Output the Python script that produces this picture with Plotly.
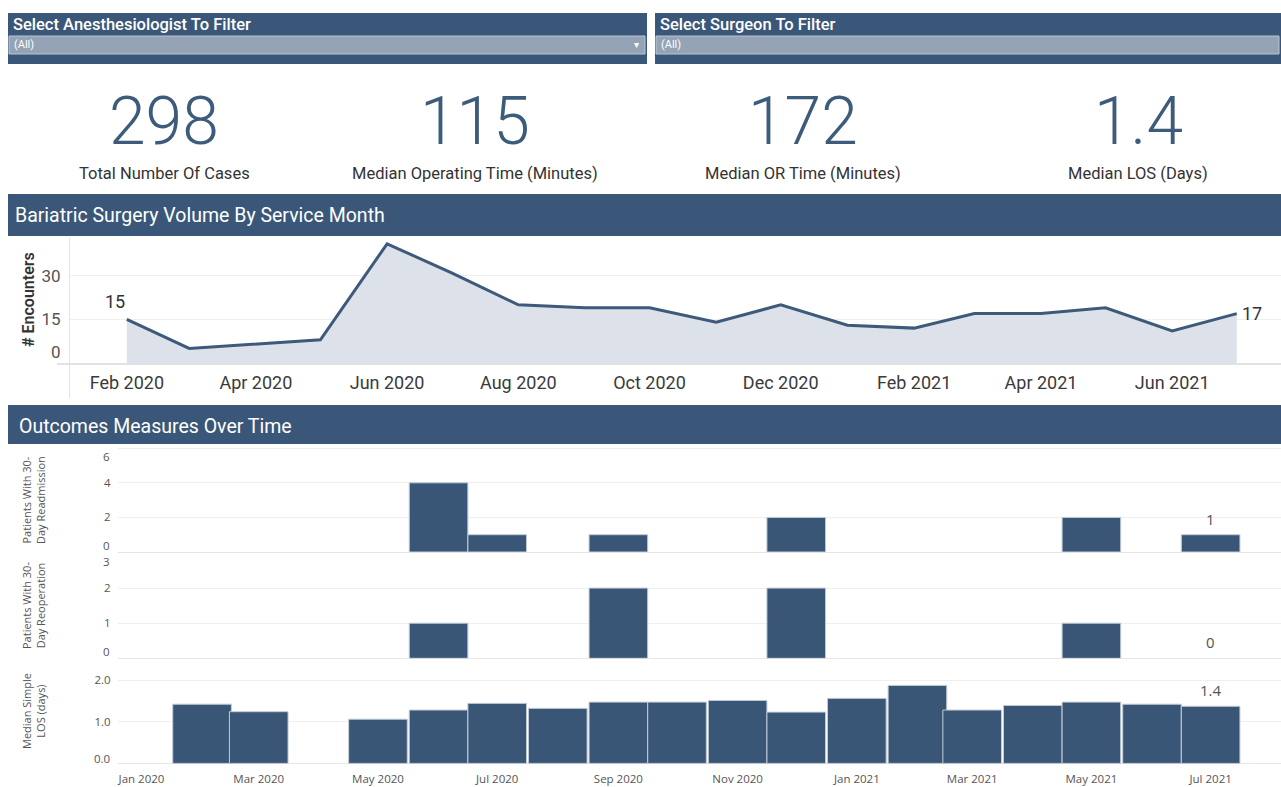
import plotly.graph_objects as go

# ---------------- data ----------------
months = ["2020-02-01", "2020-03-01", "2020-05-01", "2020-06-01", "2020-07-01", "2020-08-01",
          "2020-09-01", "2020-10-01", "2020-11-01", "2020-12-01", "2021-01-01", "2021-02-01",
          "2021-03-01", "2021-04-01", "2021-05-01", "2021-06-01", "2021-07-01"]
encounters = [15, 5, 8, 41, 31, 20, 19, 19, 14, 20, 13, 12, 17, 17, 19, 11, 17]
readmission = [0, 0, 0, 4, 1, 0, 1, 0, 0, 2, 0, 0, 0, 0, 2, 0, 1]
reoperation = [0, 0, 0, 1, 0, 0, 2, 0, 0, 2, 0, 0, 0, 0, 1, 0, 0]
median_los = [1.42, 1.24, 1.06, 1.28, 1.44, 1.32, 1.47, 1.47, 1.51, 1.23, 1.56, 1.87,
              1.28, 1.39, 1.47, 1.42, 1.37]

kpi_values = ["298", "115", "172", "1.4"]
kpi_labels = ["Total Number Of Cases", "Median Operating Time (Minutes)",
              "Median OR Time (Minutes)", "Median LOS (Days)"]
filter_titles = ["Select Anesthesiologist To Filter", "Select Surgeon To Filter"]
section_titles = ["Bariatric Surgery Volume By Service Month", "Outcomes Measures Over Time"]

# ---------------- style ----------------
W, H = 1281, 787
NAVY = "#3a5779"
BAR = "#3a5677"
DROP = "#94a4b6"
FONT = "Roboto"
def px(x):
    return x / W
def py(y):
    return 1 - y / H

fig = go.Figure()

fig.add_trace(go.Scatter(
    x=months, y=encounters, mode="lines", xaxis="x", yaxis="y",
    line=dict(color="#3d5a7a", width=3), fill="tozeroy", fillcolor="#dde2ea",
    hoverinfo="x+y", showlegend=False))

def nz(vals):
    xs = [m for m, v in zip(months, vals) if v]
    ys = [v for v in vals if v]
    return xs, ys

BW = 30 * 86400000
for vals, yax in [(readmission, "y2"), (reoperation, "y3"), (median_los, "y4")]:
    xs, ys = nz(vals)
    fig.add_trace(go.Bar(x=xs, y=ys, xaxis="x2", yaxis=yax, width=BW,
                         marker=dict(color=BAR, line=dict(color="#c3ccd6", width=1)),
                         showlegend=False))

shapes = []
annotations = []

# filter boxes
for (x0, x1), title in zip([(8, 647), (655, 1281)], filter_titles):
    shapes.append(dict(type="rect", xref="paper", yref="paper", x0=px(x0), x1=px(x1),
                       y0=py(64), y1=py(13), fillcolor=NAVY, line=dict(width=0), layer="below"))
    shapes.append(dict(type="rect", xref="paper", yref="paper", x0=px(x0 + 1), x1=px(x1 - 2),
                       y0=py(54), y1=py(36), fillcolor=DROP, line=dict(color="#b9c6d4", width=1),
                       layer="below"))
    annotations.append(dict(xref="paper", yref="paper", x=px(x0 + 3), y=py(24), text=title,
                            xanchor="left", yanchor="middle", showarrow=False,
                            font=dict(family=FONT, size=16.5, color="white", weight=500)))
    annotations.append(dict(xref="paper", yref="paper", x=px(x0 + 4), y=py(45), text="(All)",
                            xanchor="left", yanchor="middle", showarrow=False,
                            font=dict(family=FONT, size=11, color="white")))
annotations.append(dict(xref="paper", yref="paper", x=px(636), y=py(45), text="▾",
                        xanchor="center", yanchor="middle", showarrow=False,
                        font=dict(family=FONT, size=10, color="white")))

# KPIs
for cx, v, lab in zip([164, 475, 803, 1138], kpi_values, kpi_labels):
    annotations.append(dict(xref="paper", yref="paper", x=px(cx), y=py(121), text=v,
                            xanchor="center", yanchor="middle", showarrow=False,
                            font=dict(family=FONT, size=66, color="#3d5b7b", weight=300)))
    annotations.append(dict(xref="paper", yref="paper", x=px(cx), y=py(173), text=lab,
                            xanchor="center", yanchor="middle", showarrow=False,
                            font=dict(family=FONT, size=16.5, color="#333333")))

# section headers
for (y0, y1, ty, tx), title in zip([(194, 236, 215, 13), (405, 444, 426, 17)], section_titles):
    shapes.append(dict(type="rect", xref="paper", yref="paper", x0=px(8), x1=1,
                       y0=py(y1), y1=py(y0), fillcolor=NAVY, line=dict(width=0), layer="below"))
    annotations.append(dict(xref="paper", yref="paper", x=px(tx), y=py(ty), text=title,
                            xanchor="left", yanchor="middle", showarrow=False,
                            font=dict(family=FONT, size=19.5, color="white")))

# area chart frame lines
shapes.append(dict(type="line", xref="paper", yref="paper", x0=px(57), x1=1, y0=py(364), y1=py(364),
                   line=dict(color="#d9d9d9", width=1.5)))
shapes.append(dict(type="line", xref="paper", yref="paper", x0=px(69.5), x1=px(69.5), y0=py(398), y1=py(237),
                   line=dict(color="#e4e4e4", width=1)))

# area labels
annotations.append(dict(x=months[0], y=encounters[0], xref="x", yref="y", text=str(encounters[0]),
                        showarrow=False, xanchor="center", yanchor="bottom", xshift=-12, yshift=5,
                        font=dict(family=FONT, size=18, color="#333333")))
annotations.append(dict(x=months[-1], y=encounters[-1], xref="x", yref="y", text=str(encounters[-1]),
                        showarrow=False, xanchor="left", yanchor="middle", xshift=3,
                        font=dict(family=FONT, size=18, color="#333333")))
annotations.append(dict(x=px(63), y=0, xref="paper", yref="y", text="0", showarrow=False,
                        xanchor="right", yanchor="middle", yshift=11,
                        font=dict(family=FONT, size=17, color="#555555")))
annotations.append(dict(xref="paper", yref="paper", x=px(28), y=py(300), text="# Encounters",
                        textangle=-90, showarrow=False, xanchor="center", yanchor="middle",
                        font=dict(family=FONT, size=16, color="#333333", weight=600)))

# bar panel titles
SMALL = "Open Sans"
for cy, txt in [(500, "Patients With 30-<br>Day Readmission"),
                (606, "Patients With 30-<br>Day Reoperation"),
                (711, "Median Simple<br>LOS (days)")]:
    annotations.append(dict(xref="paper", yref="paper", x=px(33), y=py(cy), text=txt,
                            textangle=-90, showarrow=False, xanchor="center", yanchor="middle",
                            font=dict(family=SMALL, size=11, color="#555555")))

# edge tick labels of bar panels
for yref, val, txt, shift in [("y2", 6, "6", -8), ("y2", 0, "0", 7), ("y3", 3, "3", -8),
                              ("y3", 0, "0", 7), ("y4", 0, "0.0", 5)]:
    annotations.append(dict(x=px(112), y=val, xref="paper", yref=yref, text=txt, showarrow=False,
                            xanchor="right", yanchor="middle", yshift=shift,
                            font=dict(family=SMALL, size=11.5, color="#555555")))

# last-value labels
for yref, vals, txt in [("y2", readmission, str(readmission[-1])),
                        ("y3", reoperation, str(reoperation[-1])),
                        ("y4", median_los, f"{median_los[-1]:.1f}")]:
    annotations.append(dict(x=months[-1], y=vals[-1], xref="x2", yref=yref, text=txt,
                            showarrow=False, xanchor="center", yanchor="bottom", yshift=4,
                            font=dict(family=SMALL, size=15, color="#555555")))

GRID = "#efefef"
fig.update_layout(
    width=W, height=H, margin=dict(l=0, r=0, t=0, b=0),
    paper_bgcolor="white", plot_bgcolor="white", barmode="overlay",
    font=dict(family=FONT), showlegend=False,
    shapes=shapes, annotations=annotations,
    xaxis=dict(domain=[px(70), 1], anchor="y", type="date",
               range=["2020-01-05 14:00", "2021-07-21 14:00"],
               tick0="2020-02-01", dtick="M2", tickformat="%b %Y",
               showgrid=False, zeroline=False, showline=False,
               ticks="outside", ticklen=3, tickcolor="rgba(0,0,0,0)",
               tickfont=dict(family=FONT, size=18, color="#3a3a3a")),
    yaxis=dict(domain=[py(363), py(238)], anchor="x", range=[0, 43],
               tickvals=[15, 30], showgrid=True, gridcolor=GRID, zeroline=False,
               ticks="outside", ticklen=5, tickcolor="rgba(0,0,0,0)",
               tickfont=dict(family=FONT, size=17, color="#555555")),
    xaxis2=dict(domain=[px(118), 1], anchor="y4", type="date",
                range=["2019-12-20", "2021-08-06"],
                tick0="2020-01-01", dtick="M2", tickformat="%b %Y",
                showgrid=False, zeroline=False, showline=False,
                ticks="outside", ticklen=5, tickcolor="rgba(0,0,0,0)",
                tickfont=dict(family=SMALL, size=11.5, color="#555555")),
    yaxis2=dict(domain=[py(552), py(446)], anchor="x2", range=[0, 6.13],
                tickvals=[2, 4, 6], ticktext=["2", "4", ""], gridcolor=GRID,
                zeroline=True, zerolinecolor="#e6e6e6", zerolinewidth=1,
                ticks="outside", ticklen=4, tickcolor="rgba(0,0,0,0)",
                tickfont=dict(family=SMALL, size=11.5, color="#555555")),
    yaxis3=dict(domain=[py(658.3), py(553)], anchor="x2", range=[0, 3.0],
                tickvals=[1, 2], gridcolor=GRID,
                zeroline=True, zerolinecolor="#e6e6e6", zerolinewidth=1,
                ticks="outside", ticklen=4, tickcolor="rgba(0,0,0,0)",
                tickfont=dict(family=SMALL, size=11.5, color="#555555")),
    yaxis4=dict(domain=[py(763.4), py(665)], anchor="x2", range=[0, 2.36],
                tickvals=[1.0, 2.0], ticktext=["1.0", "2.0"], gridcolor=GRID,
                zeroline=True, zerolinecolor="#e6e6e6", zerolinewidth=1,
                ticks="outside", ticklen=4, tickcolor="rgba(0,0,0,0)",
                tickfont=dict(family=SMALL, size=11.5, color="#555555")),
)

fig.write_html("out.html", config={"displayModeBar": False},
               post_script="document.body.style.margin='0';")
